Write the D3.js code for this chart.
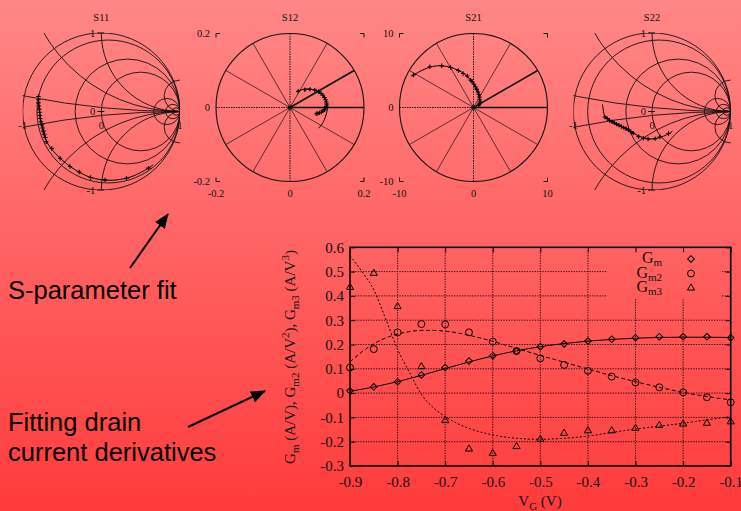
<!DOCTYPE html>
<html>
<head>
<meta charset="utf-8">
<script src="https://cdn.jsdelivr.net/npm/d3@7"></script>
<style>
  body { margin: 0; }
  svg { display: block; }
  .serif { font-family: "Liberation Serif", "DejaVu Serif", serif; fill: #111; }
  .sans { font-family: "Liberation Sans", Arial, sans-serif; fill: #000; }
</style>
</head>
<body>
<svg id="chart" width="741" height="511"></svg>
<script>
// ---- drain current derivatives (bottom plot) ----
const vg = [-0.9, -0.85, -0.8, -0.75, -0.7, -0.65, -0.6, -0.55, -0.5, -0.45, -0.4, -0.35, -0.3, -0.25, -0.2, -0.15, -0.1];
const gm  = [0.01, 0.026, 0.047, 0.075, 0.105, 0.132, 0.154, 0.173, 0.191, 0.202, 0.214, 0.222, 0.228, 0.232, 0.232, 0.232, 0.228];
const gm2 = [0.105, 0.181, 0.25, 0.284, 0.283, 0.25, 0.212, 0.173, 0.143, 0.116, 0.092, 0.068, 0.044, 0.024, 0.003, -0.017, -0.038];
const gm3 = [0.435, 0.493, 0.356, 0.109, -0.113, -0.23, -0.248, -0.22, -0.19, -0.165, -0.155, -0.155, -0.145, -0.133, -0.127, -0.124, -0.118];

const fitVg  = [-0.9, -0.875, -0.85, -0.825, -0.8, -0.775, -0.75, -0.725, -0.7, -0.65, -0.6, -0.55, -0.5, -0.45, -0.4, -0.35, -0.3, -0.25, -0.2, -0.15, -0.1];
const gmFit  = [0.008, 0.016, 0.025, 0.036, 0.047, 0.06, 0.073, 0.087, 0.101, 0.128, 0.153, 0.174, 0.191, 0.204, 0.214, 0.221, 0.226, 0.229, 0.23, 0.23, 0.229];
const gm2Fit = [0.128, 0.17, 0.203, 0.227, 0.243, 0.253, 0.258, 0.258, 0.255, 0.238, 0.213, 0.184, 0.155, 0.127, 0.099, 0.072, 0.047, 0.024, 0.003, -0.014, -0.028];
const gm3Fit = [0.565, 0.5, 0.425, 0.305, 0.18, 0.085, -0.005, -0.06, -0.097, -0.145, -0.172, -0.186, -0.19, -0.186, -0.177, -0.162, -0.148, -0.136, -0.124, -0.11, -0.097];

const xTicks = [-0.9, -0.8, -0.7, -0.6, -0.5, -0.4, -0.3, -0.2, -0.1];
const yTicks = [-0.3, -0.2, -0.1, 0, 0.1, 0.2, 0.3, 0.4, 0.5, 0.6];

// ---- S-parameters, [re, im] ----
const s11Meas = [[-0.80, 0.19], [-0.80, 0.15], [-0.80, 0.11], [-0.795, 0.07], [-0.79, 0.03], [-0.785, -0.01], [-0.78, -0.05],
  [-0.775, -0.09], [-0.765, -0.13], [-0.755, -0.17], [-0.745, -0.21], [-0.735, -0.25], [-0.725, -0.29], [-0.71, -0.33],
  [-0.70, -0.385], [-0.63, -0.47], [-0.525, -0.595], [-0.40, -0.70], [-0.28, -0.77], [-0.135, -0.84], [0.047, -0.87], [0.32, -0.85], [0.60, -0.72]];
const s11Fit = [[-0.80, 0.20], [-0.79, 0.05], [-0.775, -0.1], [-0.74, -0.27], [-0.68, -0.41], [-0.58, -0.54], [-0.46, -0.65],
  [-0.32, -0.75], [-0.16, -0.83], [0.02, -0.87], [0.2, -0.87], [0.38, -0.83], [0.55, -0.75], [0.66, -0.68]];

const s12Meas = [[0.022, 0.044], [0.04, 0.048], [0.054, 0.049], [0.067, 0.047], [0.077, 0.043],
  [0.084, 0.038], [0.089, 0.033], [0.093, 0.027], [0.096, 0.021], [0.098, 0.015], [0.099, 0.009], [0.098, 0.003],
  [0.096, -0.002], [0.093, -0.006], [0.089, -0.009], [0.085, -0.012], [0.08, -0.014], [0.075, -0.016], [0.071, -0.017]];
const s12Fit = [[0.018, 0.043], [0.04, 0.05], [0.06, 0.049], [0.077, 0.043], [0.09, 0.032], [0.098, 0.017],
  [0.101, 0.0], [0.098, -0.018], [0.092, -0.035], [0.085, -0.047], [0.077, -0.056]];

const s21Meas = [[-8.1, 4.4], [-5.9, 5.5], [-4.3, 5.65], [-3.1, 5.4], [-2.05, 5.0], [-1.4, 4.6], [-0.84, 4.26], [-0.38, 3.7],
  [-0.2, 3.5], [0.05, 3.15], [0.25, 2.8], [0.45, 2.45], [0.6, 2.1], [0.72, 1.75], [0.8, 1.4], [0.85, 1.05],
  [0.86, 0.75], [0.82, 0.5], [0.72, 0.3]];
const s21Fit = [[-8.4, 4.2], [-7.2, 4.9], [-5.9, 5.45], [-4.5, 5.65], [-3.2, 5.45], [-2.1, 5.05], [-1.2, 4.5],
  [-0.5, 3.85], [0.05, 3.2], [0.45, 2.5], [0.72, 1.8], [0.85, 1.1], [0.84, 0.6], [0.7, 0.3]];

const s22Meas = [[-0.60, -0.07], [-0.57, -0.09], [-0.54, -0.115], [-0.51, -0.13], [-0.48, -0.145], [-0.45, -0.16],
  [-0.42, -0.175], [-0.39, -0.19], [-0.36, -0.205], [-0.33, -0.22], [-0.30, -0.235], [-0.27, -0.255], [-0.24, -0.275],
  [-0.17, -0.32], [-0.11, -0.34], [-0.05, -0.35], [0.04, -0.345], [0.1, -0.325], [0.21, -0.28]];
const s22Fit = [[-0.63, 0.09], [-0.62, 0.02], [-0.60, -0.06], [-0.52, -0.12], [-0.42, -0.175], [-0.32, -0.23],
  [-0.22, -0.285], [-0.12, -0.33], [0.0, -0.35], [0.1, -0.33], [0.2, -0.29], [0.26, -0.25]];

// smith grid values
const resistances = [0, 0.1, 0.5, 1, 5, 10, 20];
const reactances = [0.1, 0.5, 1, 5, -0.1, -0.5, -1, -5];
const spokeAngles = [0, 30, 60, 90, 120, 150, 180, 210, 240, 270, 300, 330];

const W = 741, H = 511;
const svg = d3.select('#chart');
const defs = svg.append('defs');

const grad = defs.append('linearGradient').attr('id', 'bg')
  .attr('gradientUnits', 'userSpaceOnUse')
  .attr('x1', 0).attr('y1', 0).attr('x2', 0).attr('y2', H);
grad.append('stop').attr('offset', 0).attr('stop-color', '#ff8787');
grad.append('stop').attr('offset', 1).attr('stop-color', '#ff3b3b');
svg.append('rect').attr('width', W).attr('height', H).attr('fill', 'url(#bg)');

const plus = (px, py, h) => `M${px - h},${py}h${2 * h}M${px},${py - h}v${2 * h}`;

function drawData(g, x, y, meas, fit) {
  const line = d3.line().x(d => x(d[0])).y(d => y(d[1])).curve(d3.curveCatmullRom);
  g.append('path').datum(fit).attr('d', line)
    .attr('fill', 'none').attr('stroke', '#000').attr('stroke-width', 1);
  g.append('g').selectAll('path').data(meas).join('path')
    .attr('d', d => plus(x(d[0]), y(d[1]), 2.2))
    .attr('stroke', '#000').attr('stroke-width', 1.1).attr('fill', 'none');
}

// ---- Smith chart panels ----
function smithPanel(p) {
  const x = d3.scaleLinear().domain([-1, 1]).range([p.cx - p.r, p.cx + p.r]);
  const y = d3.scaleLinear().domain([-1, 1]).range([p.cy + p.r, p.cy - p.r]);
  const g = svg.append('g');
  const clipId = 'clip-' + p.name;
  defs.append('clipPath').attr('id', clipId).append('rect')
    .attr('x', x(-1)).attr('y', y(1)).attr('width', x(1) - x(-1)).attr('height', y(-1) - y(1));

  const grid = g.append('g').attr('clip-path', `url(#${clipId})`)
    .attr('fill', 'none').attr('stroke', '#111').attr('stroke-width', 0.9);
  grid.selectAll('ellipse.res').data(resistances).join('ellipse').attr('class', 'res')
    .attr('cx', d => x(d / (1 + d))).attr('cy', y(0))
    .attr('rx', d => x(1 / (1 + d)) - x(0)).attr('ry', d => y(0) - y(1 / (1 + d)));
  grid.selectAll('ellipse.reac').data(reactances).join('ellipse').attr('class', 'reac')
    .attr('cx', x(1)).attr('cy', d => y(1 / d))
    .attr('rx', d => x(1 / Math.abs(d)) - x(0)).attr('ry', d => y(0) - y(1 / Math.abs(d)));

  // axis ticks through the origin
  g.selectAll('line.yt').data([-1, 0, 1]).join('line').attr('class', 'yt')
    .attr('x1', x(0) - 4).attr('x2', x(0) + 3).attr('y1', d => y(d)).attr('y2', d => y(d))
    .attr('stroke', '#111');
  g.selectAll('text.yl').data([-1, 0, 1]).join('text').attr('class', 'yl serif')
    .attr('x', x(0) - 6).attr('y', d => y(d)).attr('dy', '0.35em')
    .attr('text-anchor', 'end').attr('font-size', 10.5).text(d => String(d));
  g.selectAll('text.xl').data([-1, 0, 1]).join('text').attr('class', 'xl serif')
    .attr('x', d => x(d)).attr('y', y(0) + 17)
    .attr('text-anchor', 'middle').attr('font-size', 10.5).text(d => String(d));

  g.append('text').attr('class', 'serif').attr('x', x(0)).attr('y', 21)
    .attr('text-anchor', 'middle').attr('font-size', 10.5).text(p.name);

  drawData(g, x, y, p.meas, p.fit);
}

// ---- polar panels ----
function polarPanel(p) {
  const x = d3.scaleLinear().domain([-p.max, p.max]).range([p.cx - p.r, p.cx + p.r]);
  const y = d3.scaleLinear().domain([-p.max, p.max]).range([p.cy + p.r, p.cy - p.r]);
  const g = svg.append('g');

  g.append('ellipse').attr('cx', x(0)).attr('cy', y(0))
    .attr('rx', x(p.max) - x(0)).attr('ry', y(0) - y(p.max))
    .attr('fill', 'none').attr('stroke', '#111').attr('stroke-width', 1.1);

  g.selectAll('line.spoke').data(spokeAngles).join('line').attr('class', 'spoke')
    .attr('x1', x(0)).attr('y1', y(0))
    .attr('x2', a => x(p.max * Math.cos(a * Math.PI / 180)))
    .attr('y2', a => y(p.max * Math.sin(a * Math.PI / 180)))
    .attr('stroke', '#111')
    .attr('stroke-width', a => (a === 0 || a === 30) ? 1.6 : (a % 90 === 0 ? 1 : 0.7))
    .attr('stroke-dasharray', a => (a % 90 === 0 && a !== 0) ? '1.5,1' : null);

  g.append('circle').attr('cx', x(0)).attr('cy', y(0)).attr('r', 2.3).attr('fill', '#111');

  // corner tick marks
  const corners = [[-1, 1], [1, 1], [-1, -1], [1, -1]];
  g.selectAll('path.corner').data(corners).join('path').attr('class', 'corner')
    .attr('d', c => {
      const cx = x(c[0] * p.max), cy = y(c[1] * p.max);
      return `M${cx - c[0] * 4},${cy}H${cx}V${cy + c[1] * 4}`;
    })
    .attr('fill', 'none').attr('stroke', '#111').attr('stroke-width', 1);

  const ticks = [-p.max, 0, p.max];
  g.selectAll('text.yl').data(ticks).join('text').attr('class', 'yl serif')
    .attr('x', x(-p.max) - 6).attr('y', d => y(d)).attr('dy', '0.35em')
    .attr('text-anchor', 'end').attr('font-size', 10.5).text(d => String(d));
  g.selectAll('text.xl').data(ticks).join('text').attr('class', 'xl serif')
    .attr('x', d => x(d)).attr('y', y(-p.max) + 15)
    .attr('text-anchor', 'middle').attr('font-size', 10.5).text(d => String(d));

  g.append('text').attr('class', 'serif').attr('x', x(0)).attr('y', 21)
    .attr('text-anchor', 'middle').attr('font-size', 10.5).text(p.name);

  drawData(g, x, y, p.meas, p.fit);
}

smithPanel({ name: 'S11', cx: 101.3, cy: 111.5, r: 78.6, meas: s11Meas, fit: s11Fit });
polarPanel({ name: 'S12', cx: 290, cy: 107.5, r: 74, max: 0.2, meas: s12Meas, fit: s12Fit });
polarPanel({ name: 'S21', cx: 473.5, cy: 107.5, r: 74, max: 10, meas: s21Meas, fit: s21Fit });
smithPanel({ name: 'S22', cx: 652, cy: 111.5, r: 78.6, meas: s22Meas, fit: s22Fit });

// ---- bottom plot ----
const bx = d3.scaleLinear().domain([-0.9, -0.1]).range([350, 730.7]);
const by = d3.scaleLinear().domain([-0.3, 0.6]).range([466, 247.3]);
const bp = svg.append('g');

const gridG = bp.append('g').attr('stroke', '#000').attr('stroke-width', 1)
  .attr('stroke-dasharray', '1.3,1.3').attr('opacity', 0.85);
gridG.selectAll('line.gx').data(xTicks.slice(1, -1)).join('line').attr('class', 'gx')
  .attr('x1', d => bx(d)).attr('x2', d => bx(d)).attr('y1', by(0.6)).attr('y2', by(-0.3));
gridG.selectAll('line.gy').data(yTicks.slice(1, -1)).join('line').attr('class', 'gy')
  .attr('x1', bx(-0.9)).attr('x2', bx(-0.1)).attr('y1', d => by(d)).attr('y2', d => by(d));

// opaque key box
bp.append('rect').attr('x', 607).attr('y', by(0.6) + 1).attr('width', 115).attr('height', 50)
  .attr('fill', 'url(#bg)');

// inward ticks on all sides
const axes = [
  d3.axisLeft(by).tickValues(yTicks).tickFormat(d => String(d)).tickSizeInner(-5).tickSizeOuter(0).tickPadding(6),
  d3.axisBottom(bx).tickValues(xTicks).tickFormat(d => String(d)).tickSizeInner(-5).tickSizeOuter(0).tickPadding(10),
  d3.axisRight(by).tickValues(yTicks).tickFormat('').tickSizeInner(-5).tickSizeOuter(0),
  d3.axisTop(bx).tickValues(xTicks).tickFormat('').tickSizeInner(-5).tickSizeOuter(0)
];
const axisPos = [[bx(-0.9), 0], [0, by(-0.3)], [bx(-0.1), 0], [0, by(0.6)]];
axes.forEach((a, i) => {
  const ag = bp.append('g').attr('transform', `translate(${axisPos[i][0]},${axisPos[i][1]})`).call(a);
  ag.select('.domain').remove();
  ag.selectAll('line').attr('stroke', '#000').attr('stroke-width', 1);
  ag.selectAll('text').attr('font-family', '"Liberation Serif", serif').attr('font-size', 15).attr('fill', '#111');
});

bp.append('rect').attr('x', bx(-0.9)).attr('y', by(0.6))
  .attr('width', bx(-0.1) - bx(-0.9)).attr('height', by(-0.3) - by(0.6))
  .attr('fill', 'none').attr('stroke', '#000').attr('stroke-width', 1.6);

// fits
const series = [
  { name: 'm', meas: gm, fit: gmFit, dash: null, sym: 'diamond' },
  { name: 'm2', meas: gm2, fit: gm2Fit, dash: '4,2.5', sym: 'circle' },
  { name: 'm3', meas: gm3, fit: gm3Fit, dash: '2,2', sym: 'triangle' }
];
const fitLine = d3.line().x((d, i) => bx(fitVg[i])).y(d => by(d)).curve(d3.curveMonotoneX);
const symbolPath = {
  diamond: d3.symbol(d3.symbolSquare, 22)(),
  circle: d3.symbol(d3.symbolCircle, 38)(),
  triangle: d3.symbol(d3.symbolTriangle, 22)()
};
const symbolRot = { diamond: 45, circle: 0, triangle: 0 };

series.forEach(s => {
  bp.append('path').datum(s.fit).attr('d', fitLine)
    .attr('fill', 'none').attr('stroke', '#000').attr('stroke-width', 1)
    .attr('stroke-dasharray', s.dash);
  bp.append('g').selectAll('path').data(s.meas).join('path')
    .attr('d', symbolPath[s.sym])
    .attr('transform', (d, i) => `translate(${bx(vg[i])},${by(d)}) rotate(${symbolRot[s.sym]})`)
    .attr('fill', 'none').attr('stroke', '#000').attr('stroke-width', 1);
});

// key
series.forEach((s, i) => {
  const ky = 263 + i * 14.5;
  const t = bp.append('text').attr('class', 'serif').attr('x', 662).attr('y', ky)
    .attr('text-anchor', 'end').attr('font-size', 16);
  t.append('tspan').text('G');
  t.append('tspan').attr('dy', 3).attr('font-size', 11).text(s.name);
  bp.append('path').attr('d', symbolPath[s.sym])
    .attr('transform', `translate(691,${ky - 4}) rotate(${symbolRot[s.sym]})`)
    .attr('fill', 'none').attr('stroke', '#000').attr('stroke-width', 1);
});

// axis titles
const yLabelParts = [
  ['G', 0], ['m', 1], [' (A/V), G', 0], ['m2', 1], [' (A/V', 0], ['2', -1], ['), G', 0], ['m3', 1], [' (A/V', 0], ['3', -1], [')', 0]
];
const yl = bp.append('text').attr('class', 'serif').attr('font-size', 15)
  .attr('text-anchor', 'middle').attr('transform', 'translate(295,357) rotate(-90)');
let prevShift = 0;
yLabelParts.forEach(([txt, kind]) => {
  const shift = kind === 1 ? 4 : kind === -1 ? -6 : 0;
  yl.append('tspan').attr('dy', shift - prevShift).attr('font-size', kind === 0 ? 15 : 11).text(txt);
  prevShift = shift;
});

const xl = bp.append('text').attr('class', 'serif').attr('x', 540).attr('y', 506)
  .attr('text-anchor', 'middle').attr('font-size', 15);
xl.append('tspan').text('V');
xl.append('tspan').attr('dy', 4).attr('font-size', 11).text('G');
xl.append('tspan').attr('dy', -4).text(' (V)');

// ---- annotations ----
defs.append('marker').attr('id', 'arrow').attr('markerUnits', 'userSpaceOnUse')
  .attr('markerWidth', 15).attr('markerHeight', 12).attr('refX', 14).attr('refY', 6)
  .attr('orient', 'auto')
  .append('path').attr('d', 'M0,0L15,6L0,12Z').attr('fill', '#000');

const notes = svg.append('g');
notes.append('line').attr('x1', 130).attr('y1', 268).attr('x2', 168).attr('y2', 214)
  .attr('stroke', '#000').attr('stroke-width', 2).attr('marker-end', 'url(#arrow)');
notes.append('line').attr('x1', 188).attr('y1', 427).attr('x2', 265).attr('y2', 391)
  .attr('stroke', '#000').attr('stroke-width', 2).attr('marker-end', 'url(#arrow)');

notes.append('text').attr('class', 'sans').attr('x', 8).attr('y', 299)
  .attr('font-size', 25.5).text('S-parameter fit');
notes.append('text').attr('class', 'sans').attr('x', 8).attr('y', 431)
  .attr('font-size', 25.5).text('Fitting drain');
notes.append('text').attr('class', 'sans').attr('x', 8).attr('y', 461)
  .attr('font-size', 25.5).text('current derivatives');
</script>
</body>
</html>
